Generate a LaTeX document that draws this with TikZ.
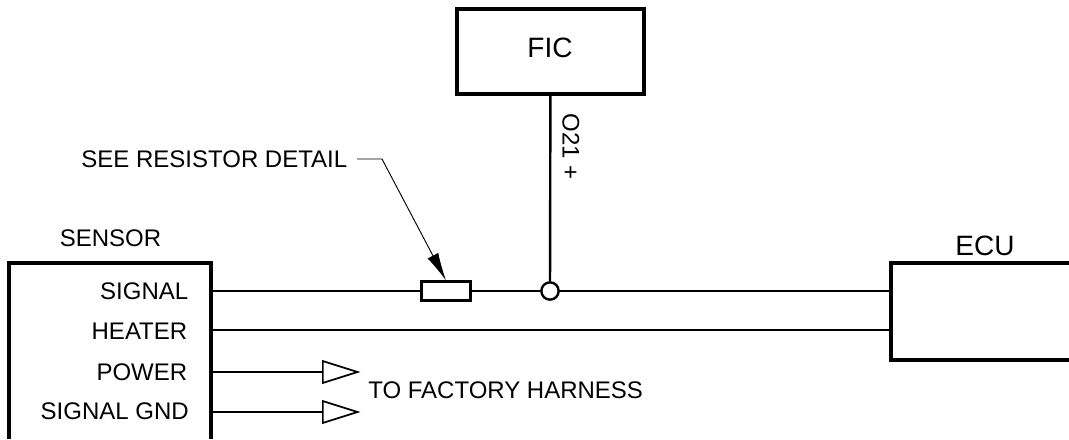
\documentclass[tikz,border=0pt]{standalone}
\usepackage{fontspec}
\setmainfont{Liberation Sans}
\usetikzlibrary{arrows.meta,shapes.geometric}
\tikzset{
	box/.style={line width=2.8pt},
	wire/.style={line width=1.8pt},
	lbl/.style={font=\fontsize{18}{20}\selectfont,inner sep=0pt},
	biglbl/.style={font=\fontsize{21}{23}\selectfont,inner sep=0pt},
	tip/.style={draw,line width=1.3pt,shape=isosceles triangle,isosceles triangle apex angle=35,inner sep=0pt,minimum height=26pt,anchor=lower side}
}
\begin{document}
\begin{tikzpicture}[x=.75pt,y=-.75pt]
	\useasboundingbox (0,0) rectangle (1069,439);

	\node[draw,shape=rectangle,box,biglbl,minimum width=140pt,minimum height=64pt] (FIC) at (550.5,51.5) {};
	\node[biglbl] (FICT) at (550,48) {FIC};
	\node[lbl,rotate=-90] (OUT) at (571,146.5) {O21 +};

	\node[draw,shape=rectangle,wire,fill=white,minimum width=37pt,minimum height=14pt,inner sep=0pt] (RES) at (446,291) {};
	\node[draw,shape=circle,wire,fill=white,minimum size=13pt,inner sep=0pt] (JN) at (550,291) {};

	\node[lbl] (SENS) at (110.5,238) {SENSOR};
	\node[biglbl] (ECUT) at (985,246) {ECU};
	\node[lbl,anchor=east] (DETAIL) at (347.5,159) {SEE RESISTOR DETAIL};
	\node[lbl,anchor=east] (SIG) at (188.5,291) {SIGNAL};
	\node[lbl,anchor=east] (HEAT) at (187.5,331) {HEATER};
	\node[lbl,anchor=east] (POW) at (187.5,372) {POWER};
	\node[lbl,anchor=east] (GND) at (189,411) {SIGNAL GND};
	\node[lbl,anchor=west] (HARN) at (368,390) {TO FACTORY HARNESS};

	\node[tip] (TA) at (322,372) {};
	\node[tip] (TB) at (322,412) {};

	\coordinate (SA) at (211,291);
	\coordinate (SB) at (211,330);
	\coordinate (SC) at (211,372);
	\coordinate (SD) at (211,412);
	\coordinate (EA) at (891,291);
	\coordinate (EB) at (891,330);
	\coordinate (LA) at (357,159);
	\coordinate (LB) at (382,159);

	\draw[box] (9,439)--(9,263)--(211,263)--(211,439);
	\draw[box] (1069,263)--(891,263)--(891,360)--(1069,360);

	\draw[wire] (SA)--(RES);
	\draw[wire] (RES)--(JN);
	\draw[wire] (JN)--(EA);
	\draw[wire] (SB)--(EB);
	\draw[wire] (SC)--(TA);
	\draw[wire] (SD)--(TB);
	\draw[wire] (FIC)--(JN);
	\draw[line width=.7pt,-{Latex[length=21pt,width=9pt]}] (LA)--(LB)--(RES.north);
\end{tikzpicture}
\end{document}
